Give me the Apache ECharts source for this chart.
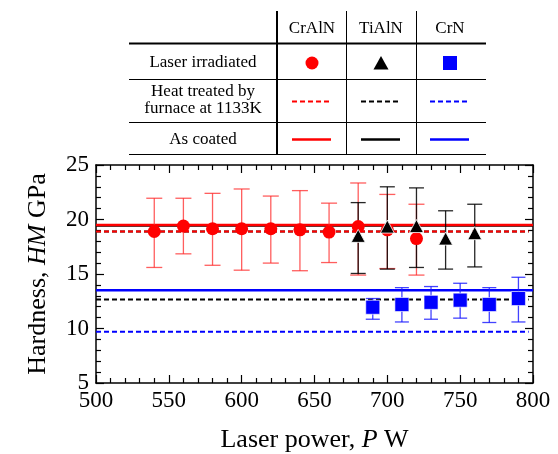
<!DOCTYPE html>
<html>
<head>
<meta charset="utf-8">
<script src="https://cdn.jsdelivr.net/npm/echarts@6/dist/echarts.min.js"></script>
<style>html,body{margin:0;padding:0;background:#fff;}#chart{width:558px;height:454px;}</style>
</head>
<body>
<div id="chart"></div>
<script>
// ---- data ----
const crAlN_P  = [540, 560, 580, 600, 620, 640, 660, 680, 700, 720];
const crAlN_HM = [18.9, 19.4, 19.15, 19.15, 19.15, 19.05, 18.85, 19.35, 19.05, 18.25];
const crAlN_hi = [21.95, 21.95, 22.4, 22.8, 22.15, 22.65, 21.5, 23.35, 22.3, 21.4];
const crAlN_lo = [15.6, 16.85, 15.8, 15.35, 16.0, 15.3, 16.05, 14.9, 15.5, 14.9];

const tiAlN_P  = [680, 700, 720, 740, 760];
const tiAlN_HM = [18.5, 19.35, 19.4, 18.25, 18.75];
const tiAlN_hi = [21.55, 23.0, 22.9, 20.8, 21.4];
const tiAlN_lo = [15.05, 15.45, 15.6, 15.45, 15.65];

const crN_P  = [690, 710, 730, 750, 770, 790];
const crN_HM = [11.95, 12.2, 12.4, 12.6, 12.2, 12.75];
const crN_hi = [12.75, 13.75, 13.85, 14.15, 13.75, 14.7];
const crN_lo = [10.85, 10.6, 10.85, 10.95, 10.55, 10.6];

// horizontal reference levels (GPa)
const crAlN_coated = 19.5;
const crAlN_heat   = 18.9;
const tiAlN_coated = 19.45;
const tiAlN_heat   = 18.9;
const extra_heat   = 12.65;
const crN_coated   = 13.5;
const crN_heat     = 9.7;

const xTicks = [500, 550, 600, 650, 700, 750, 800];
const yTicks = [5, 10, 15, 20, 25];

const columns = ['CrAlN', 'TiAlN', 'CrN'];
const rows = ['Laser irradiated', 'Heat treated by\nfurnace at 1133K', 'As coated'];

// ---- build ----
const FONT = '"Liberation Serif", "Times New Roman", serif';
const RED = '#ff0000', BLACK = '#000000', BLUE = '#0000ff';

function zipPts(xs, ys) { return xs.map((x, i) => [x, ys[i]]); }
function zipErr(xs, lo, hi) { return xs.map((x, i) => [x, lo[i], hi[i]]); }

function errSeries(data, color, capW, z) {
  return {
    type: 'custom', z: z, silent: true,
    data: data,
    encode: { x: 0, y: [1, 2] },
    renderItem: function (params, api) {
      const x = api.value(0), lo = api.value(1), hi = api.value(2);
      const a = api.coord([x, lo]), b = api.coord([x, hi]);
      const h = capW / 2;
      const st = { stroke: color, lineWidth: 1.3 };
      return { type: 'group', children: [
        { type: 'line', shape: { x1: a[0], y1: a[1], x2: b[0], y2: b[1] }, style: st },
        { type: 'line', shape: { x1: a[0] - h, y1: a[1], x2: a[0] + h, y2: a[1] }, style: st },
        { type: 'line', shape: { x1: b[0] - h, y1: b[1], x2: b[0] + h, y2: b[1] }, style: st }
      ]};
    }
  };
}

function hLine(v, color, dashed, xEnd, z) {
  return {
    type: 'line', z: z, silent: true, symbol: 'none',
    data: [[500, v], [xEnd, v]],
    lineStyle: { color: color, width: dashed ? 2 : 2.5, type: dashed ? [5, 3] : 'solid' }
  };
}

const series = [
  hLine(tiAlN_coated, BLACK, false, 800, 1),
  hLine(crAlN_coated, RED, false, 800, 2),
  hLine(tiAlN_heat, BLACK, true, 797, 2),
  hLine(crAlN_heat, RED, true, 797, 3),
  hLine(crN_coated, BLUE, false, 800, 2),
  hLine(extra_heat, BLACK, true, 797, 2),
  hLine(crN_heat, BLUE, true, 797, 2),
  errSeries(zipErr(crAlN_P, crAlN_lo, crAlN_hi), 'rgba(255,40,40,0.75)', 16, 4),
  errSeries(zipErr(tiAlN_P, tiAlN_lo, tiAlN_hi), 'rgba(0,0,0,0.85)', 15, 5),
  errSeries(zipErr(crN_P, crN_lo, crN_hi), 'rgba(20,20,255,0.8)', 14, 5),
  { type: 'scatter', z: 6, symbol: 'circle', symbolSize: 13, data: zipPts(crAlN_P, crAlN_HM),
    itemStyle: { color: RED, opacity: 1 } },
  { type: 'scatter', z: 7, symbol: 'triangle', symbolSize: [14, 13], data: zipPts(tiAlN_P, tiAlN_HM),
    itemStyle: { color: BLACK, borderColor: '#fff', borderWidth: 0.8, opacity: 1 } },
  { type: 'scatter', z: 7, symbol: 'rect', symbolSize: 14, data: zipPts(crN_P, crN_HM),
    itemStyle: { color: BLUE, borderColor: '#fff', borderWidth: 0.6, opacity: 1 } }
];

// ---- table legend (graphic) ----
const colX = [312, 381, 450];
const rowY = [63, 100, 140];
const g = [];
function ln(x1, y1, x2, y2, w) {
  g.push({ type: 'line', shape: { x1, y1, x2, y2 }, style: { stroke: '#000', lineWidth: w } });
}
ln(277, 11, 277, 155, 2);
ln(346.5, 11, 346.5, 155, 1);
ln(416.5, 11, 416.5, 155, 1);
ln(129, 43.5, 486, 43.5, 2);
ln(129, 79.5, 486, 79.5, 1);
ln(129, 122.5, 486, 122.5, 1);
ln(129, 154.5, 486, 154.5, 1);
columns.forEach((c, i) => g.push({ type: 'text', x: colX[i], y: 29, style: { text: c, font: '17px ' + FONT, fill: '#000', align: 'center', verticalAlign: 'middle' } }));
rows.forEach((r, i) => g.push({ type: 'text', x: 203, y: rowY[i], style: { text: r, font: '17px ' + FONT, lineHeight: 17, fill: '#000', align: 'center', verticalAlign: 'middle' } }));
g.push({ type: 'circle', shape: { cx: colX[0], cy: 63, r: 6.5 }, style: { fill: RED } });
g.push({ type: 'polygon', shape: { points: [[colX[1], 56], [colX[1] + 7.5, 69.5], [colX[1] - 7.5, 69.5]] }, style: { fill: BLACK } });
g.push({ type: 'rect', shape: { x: colX[2] - 7, y: 56, width: 14, height: 14 }, style: { fill: BLUE } });
[RED, BLACK, BLUE].forEach((c, i) => {
  g.push({ type: 'line', shape: { x1: colX[i] - 20, y1: 101.5, x2: colX[i] + 19, y2: 101.5 }, style: { stroke: c, lineWidth: 2, lineDash: [5, 3] } });
  g.push({ type: 'line', shape: { x1: colX[i] - 20, y1: 139.5, x2: colX[i] + 19, y2: 139.5 }, style: { stroke: c, lineWidth: 2.5 } });
});

const axisCommon = {
  axisLine: { show: true, lineStyle: { color: '#000', width: 1.5 } },
  axisTick: { show: true, inside: true, length: 8, lineStyle: { color: '#000', width: 1.2 } },
  minorTick: { show: true, splitNumber: 5, length: 5, lineStyle: { color: '#000', width: 1.2 } },
  splitLine: { show: false },
  minorSplitLine: { show: false }
};

const option = {
  animation: false,
  backgroundColor: '#fff',
  grid: { left: 96, right: 25, top: 165, bottom: 71 },
  xAxis: [
    Object.assign({}, axisCommon, {
      type: 'value', min: xTicks[0], max: xTicks[xTicks.length - 1], interval: 50, position: 'bottom',
      axisLabel: { color: '#000', fontFamily: FONT, fontSize: 23, margin: 6 },
      name: 'Laser power, {i|P}{n| W}', nameLocation: 'middle', nameGap: 44,
      nameTextStyle: { color: '#000', fontFamily: FONT, fontSize: 26,
        rich: { n: { fontFamily: FONT, fontSize: 26, color: '#000' }, i: { fontFamily: FONT, fontSize: 26, fontStyle: 'italic', color: '#000' } } }
    }),
    Object.assign({}, axisCommon, {
      type: 'value', min: xTicks[0], max: xTicks[xTicks.length - 1], interval: 50, position: 'top',
      axisLabel: { show: false }
    })
  ],
  yAxis: [
    Object.assign({}, axisCommon, {
      type: 'value', min: yTicks[0], max: yTicks[yTicks.length - 1], interval: 5, position: 'left',
      axisLabel: { color: '#000', fontFamily: FONT, fontSize: 23, margin: 7 },
      name: 'Hardness, {i|HM}{n| GPa}', nameLocation: 'middle', nameGap: 45, nameRotate: 90,
      nameTextStyle: { color: '#000', fontFamily: FONT, fontSize: 26,
        rich: { n: { fontFamily: FONT, fontSize: 26, color: '#000' }, i: { fontFamily: FONT, fontSize: 26, fontStyle: 'italic', color: '#000' } } }
    }),
    Object.assign({}, axisCommon, {
      type: 'value', min: yTicks[0], max: yTicks[yTicks.length - 1], interval: 5, position: 'right',
      axisLabel: { show: false }
    })
  ],
  series: series,
  graphic: g
};

const chart = echarts.init(document.getElementById('chart'), null, { renderer: 'canvas' });
chart.setOption(option);
</script>
</body>
</html>
